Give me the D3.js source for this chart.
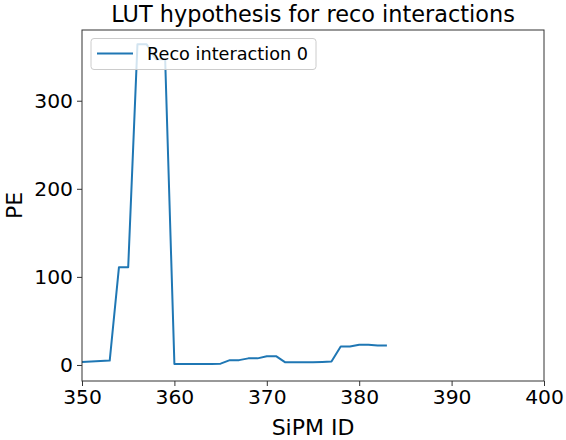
<!DOCTYPE html>
<html>
<head>
<meta charset="utf-8">
<script src="https://cdn.jsdelivr.net/npm/d3@7"></script>
<style>
  html, body { margin: 0; padding: 0; background: #fff; }
  svg { display: block; font-family: "DejaVu Sans", sans-serif; }
</style>
</head>
<body>
<svg id="chart" width="566" height="440"></svg>
<script>
// ---- data ----
const sipmIds = [350,351,352,353,354,355,356,357,358,359,360,361,362,363,364,365,366,367,368,369,370,371,372,373,374,375,376,377,378,379,380,381,382,383];
const peValues = [3.5,4,4.5,5,111,111,364,364,347,347,1,1,1,1,1,1.5,5.5,5.5,7.5,7.5,10,10,3,3,3,3.2,3.5,4,21,21,23,23,22,22];
const xTicks = [350,360,370,380,390,400];
const yTicks = [0,100,200,300];
const seriesName = "Reco interaction 0";
const titleText = "LUT hypothesis for reco interactions";
const xLabel = "SiPM ID";
const yLabel = "PE";

// ---- layout ----
const W = 566, H = 440;
const m = {left: 82, right: 22, top: 30, bottom: 59};
const pw = W - m.left - m.right, ph = H - m.top - m.bottom;

const svg = d3.select("#chart");
const x = d3.scaleLinear().domain([350, 400]).range([m.left, m.left + pw]);
const y = d3.scaleLinear().domain([-18.2, 380.3]).range([m.top + ph, m.top]);

// line
const line = d3.line().x((d, i) => x(sipmIds[i])).y(d => y(d));
svg.append("path")
  .datum(peValues)
  .attr("d", line)
  .attr("fill", "none")
  .attr("stroke", "#1f77b4")
  .attr("stroke-width", 2)
  .attr("stroke-linejoin", "round");

// axes
const xAxis = svg.append("g")
  .attr("transform", `translate(0,${m.top + ph})`)
  .call(d3.axisBottom(x).tickValues(xTicks).tickSize(5).tickPadding(4));
const yAxis = svg.append("g")
  .attr("transform", `translate(${m.left},0)`)
  .call(d3.axisLeft(y).tickValues(yTicks).tickSize(5).tickPadding(4));
[xAxis, yAxis].forEach(g => {
  g.selectAll("text").attr("font-size", 20.3).attr("fill", "#000").attr("font-family", "DejaVu Sans");
  g.selectAll("line").attr("stroke", "#333");
  g.select(".domain").remove();
});

// frame
svg.append("rect")
  .attr("x", m.left).attr("y", m.top).attr("width", pw).attr("height", ph)
  .attr("fill", "none").attr("stroke", "#333").attr("stroke-width", 1);

// title & labels
svg.append("text")
  .attr("x", m.left + pw / 2).attr("y", 22)
  .attr("text-anchor", "middle").attr("font-size", 22.4).text(titleText);
svg.append("text")
  .attr("x", m.left + pw / 2).attr("y", 435)
  .attr("text-anchor", "middle").attr("font-size", 22).text(xLabel);
svg.append("text")
  .attr("transform", `translate(22,${m.top + ph / 2}) rotate(-90)`)
  .attr("text-anchor", "middle").attr("font-size", 22).text(yLabel);

// legend
const lg = svg.append("g");
lg.append("rect")
  .attr("x", 91).attr("y", 38.5).attr("width", 225).attr("height", 31).attr("rx", 3)
  .attr("fill", "#fff").attr("fill-opacity", 0.8)
  .attr("stroke", "#ccc").attr("stroke-width", 1);
lg.append("line")
  .attr("x1", 97).attr("x2", 133).attr("y1", 53.5).attr("y2", 53.5)
  .attr("stroke", "#1f77b4").attr("stroke-width", 2);
lg.append("text")
  .attr("x", 147).attr("y", 60).attr("font-size", 17.7).text(seriesName);
</script>
</body>
</html>
